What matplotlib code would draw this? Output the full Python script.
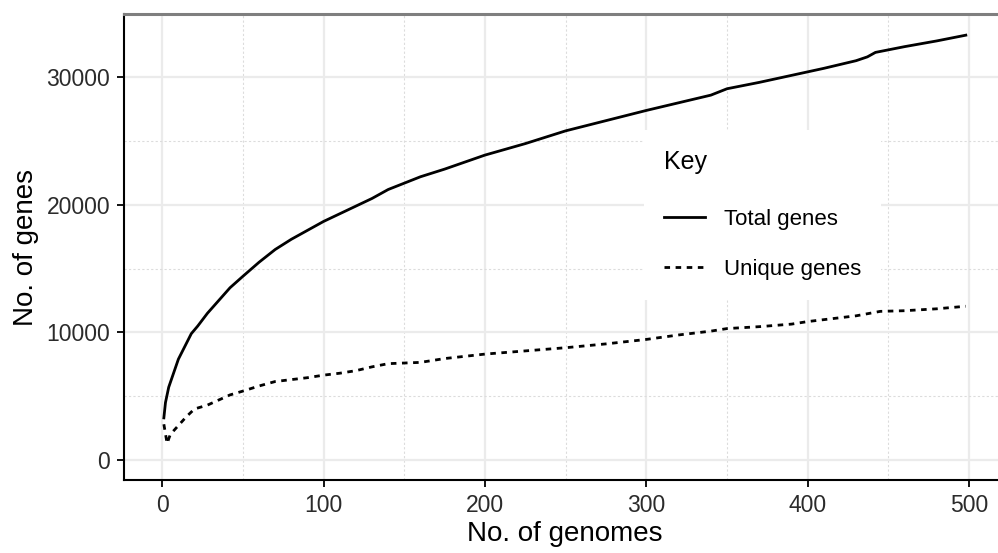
import matplotlib
matplotlib.use('Agg')
import matplotlib.pyplot as plt
from matplotlib.ticker import MultipleLocator

plt.rcParams['font.family'] = ['Liberation Sans', 'DejaVu Sans']

# pan-genome accumulation
total_x = [1, 2, 4, 7, 10, 14, 18, 22, 28, 35, 42, 50, 60, 70, 80, 90, 100,
           110, 120, 130, 140, 150, 160, 175, 200, 225, 250, 275, 300, 320,
           340, 350, 370, 390, 410, 430, 437, 442, 460, 480, 498]
total_genes = [3300, 4500, 5700, 6800, 7900, 8900, 9900, 10500, 11500, 12500,
               13500, 14400, 15500, 16500, 17300, 18000, 18700, 19300, 19900,
               20500, 21200, 21700, 22200, 22800, 23900, 24800, 25800, 26600,
               27400, 28000, 28600, 29100, 29600, 30150, 30700, 31300, 31600,
               31950, 32400, 32850, 33300]

unique_x = [1, 3, 5, 10, 15, 20, 28, 35, 42, 50, 60, 70, 80, 90, 100, 110,
            120, 130, 140, 150, 160, 175, 200, 225, 250, 275, 300, 320, 340,
            350, 370, 390, 400, 430, 445, 460, 480, 498]
unique_genes = [2800, 1300, 2000, 2700, 3400, 4000, 4300, 4700, 5100, 5400,
                5800, 6150, 6300, 6450, 6650, 6800, 7000, 7300, 7550, 7600,
                7650, 7950, 8300, 8550, 8800, 9100, 9450, 9800, 10100, 10300,
                10450, 10650, 10850, 11300, 11650, 11700, 11850, 12050]

fig = plt.figure(figsize=(9.98, 5.53), dpi=100)
ax = fig.add_axes([124 / 998, 73 / 553, 882 / 998, 466 / 553])

ax.plot(total_x, total_genes, color='black', lw=2.0, label='Total genes')
ax.plot(unique_x, unique_genes, color='black', lw=2.0, dashes=(2, 2),
        label='Unique genes')

ax.set_xlim(-23.7, 522.9)
ax.set_ylim(-1570, 34960)
ax.xaxis.set_major_locator(MultipleLocator(100))
ax.xaxis.set_minor_locator(MultipleLocator(50))
ax.yaxis.set_major_locator(MultipleLocator(10000))
ax.yaxis.set_minor_locator(MultipleLocator(5000))

# grid like ggplot theme_bw
ax.grid(which='major', color='#ebebeb', lw=1.6)
ax.grid(which='minor', color='#dcdcdc', lw=0.8, ls=(0, (2, 2)))
ax.set_axisbelow(True)

ax.spines['right'].set_visible(False)
ax.spines['top'].set_color('#7f7f7f')
ax.spines['top'].set_linewidth(2.2)
ax.spines['left'].set_linewidth(1.5)
ax.spines['bottom'].set_linewidth(1.5)

ax.tick_params(which='major', length=5, width=1.3, labelsize=16.5,
               labelcolor='#2b2b2b', pad=5)
ax.tick_params(which='minor', length=0)

ax.set_xlabel('No. of genomes', fontsize=20, labelpad=3)
ax.set_ylabel('No. of genes', fontsize=20, labelpad=5)

leg = ax.legend(title='Key', loc='upper left',
                bbox_to_anchor=(644 / 998, 1 - 130 / 553),
                bbox_transform=fig.transFigure, borderaxespad=0,
                fontsize=16, title_fontsize=18, alignment='left',
                frameon=True, fancybox=False, edgecolor='none',
                facecolor='white', framealpha=1,
                handlelength=1.85, handletextpad=0.85, labelspacing=1.3,
                borderpad=0.9)
leg._legend_box.sep = 25

fig.savefig('out.png', dpi=100)
